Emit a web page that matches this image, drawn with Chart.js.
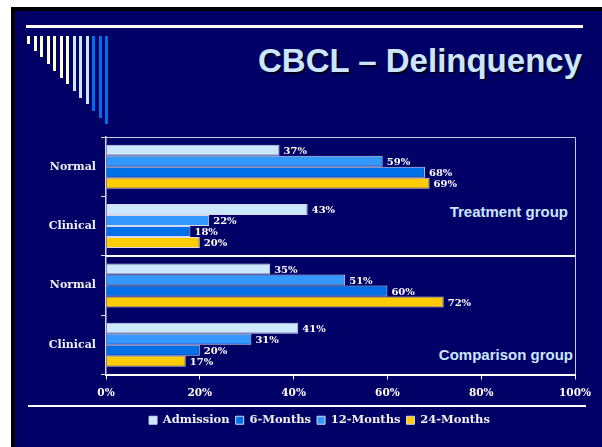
<!DOCTYPE html>
<html>
<head>
<meta charset="utf-8">
<script src="https://cdn.jsdelivr.net/npm/chart.js@4"></script>
<style>
    body{margin:0;background:#fff;width:602px;height:447px;overflow:hidden;position:relative;}
    .slide{position:absolute;left:11px;top:7px;width:591px;height:440px;background:#000066;
        border-left:4px solid #000;border-top:4px solid #000;box-sizing:border-box;}
    .topLine{position:absolute;left:26px;top:25px;width:557px;height:3px;background:#fff;}
    .bottomLine{position:absolute;left:28px;top:405px;width:558px;height:2px;background:#fff;}
    .deco{position:absolute;width:3px;top:36px;}
    .title{position:absolute;right:20px;top:44px;font:bold 33px "Liberation Sans",Arial,sans-serif;
        line-height:33px;color:#cce6ff;text-shadow:2px 2px 0 #000020;white-space:nowrap;}
    .group{position:absolute;font:bold 15px "Liberation Sans",Arial,sans-serif;line-height:15px;
        color:#cce6ff;white-space:nowrap;}
    canvas{position:absolute;left:0;top:0;}
</style>
</head>
<body>
<div class="slide"></div>
<div class="topLine"></div>
<div id="decoBox"></div>
<div class="title">CBCL – Delinquency</div>
<div class="group" style="right:34px;top:204px;">Treatment group</div>
<div class="group" style="right:29px;top:347px;">Comparison group</div>
<div class="bottomLine"></div>
<canvas id="chart" width="602" height="447"></canvas>
<script>
//__________ 資料 __________//
var categories = ['Normal', 'Clinical', 'Normal', 'Clinical'];
var seriesNames = ['Admission', '12-Months', '6-Months', '24-Months'];
var admission = [37, 43, 35, 41];
var months12 = [59, 22, 51, 31];
var months6 = [68, 18, 60, 20];
var months24 = [69, 20, 72, 17];
var xTicks = [0, 20, 40, 60, 80, 100];
var legendOrder = ['Admission', '6-Months', '12-Months', '24-Months'];

var barColors = ['#cce8ff', '#3399ff', '#0070e8', '#ffcc00'];
var serifFont = '"DejaVu Serif", "Liberation Serif", serif';

//__________ 左上裝飾線 __________//
var decoBox = document.getElementById('decoBox');
for (var i = 0; i < 13; i++) {
    var d = document.createElement('div');
    d.className = 'deco';
    d.style.left = (27 + i * 6.5) + 'px';
    d.style.height = (8 + i * 6.7) + 'px';
    d.style.background = i < 7 ? '#ffffcc' : (i < 10 ? '#cce8ff' : '#0070e8');
    decoBox.appendChild(d);
}

//__________ 數值標籤、外框 __________//
var extras = {
    id: 'extras',
    afterLayout: function(chart) {
        // 圖例往右移，對齊原圖
        chart.legend.left += 32;
        chart.legend.right += 32;
    },
    afterDatasetsDraw: function(chart) {
        var ctx = chart.ctx;
        var area = chart.chartArea;
        var yScale = chart.scales.y;
        ctx.save();
        // 外框
        ctx.strokeStyle = '#c8c8d8';
        ctx.lineWidth = 1;
        ctx.beginPath();
        ctx.moveTo(area.left - 4, area.top + 0.5);
        ctx.lineTo(area.right + 0.5, area.top + 0.5);
        ctx.lineTo(area.right + 0.5, area.bottom);
        ctx.stroke();
        // 中間分隔線
        var midY = Math.round(yScale.getPixelForValue(1.5));
        ctx.strokeStyle = '#ffffff';
        ctx.lineWidth = 2;
        ctx.beginPath();
        ctx.moveTo(area.left, midY);
        ctx.lineTo(area.right, midY);
        ctx.stroke();
        // 數值
        ctx.fillStyle = '#ffffff';
        ctx.font = 'bold 10px ' + serifFont;
        ctx.textAlign = 'left';
        ctx.textBaseline = 'middle';
        chart.data.datasets.forEach(function(ds, i) {
            chart.getDatasetMeta(i).data.forEach(function(bar, j) {
                ctx.fillText(ds.data[j] + '%', bar.x + 4, bar.y + 1);
            });
        });
        ctx.restore();
    }
};

var seriesData = [admission, months12, months6, months24];

new Chart(document.getElementById('chart'), {
    type: 'bar',
    data: {
        labels: categories,
        datasets: seriesData.map(function(vals, i) {
            return {
                label: seriesNames[i],
                data: vals,
                backgroundColor: barColors[i],
                borderColor: '#d8d8e8',
                borderWidth: 1,
                categoryPercentage: 0.74,
                barPercentage: 1
            };
        })
    },
    options: {
        indexAxis: 'y',
        responsive: false,
        animation: false,
        devicePixelRatio: 1,
        layout: {padding: {top: 137, right: 27, left: 0, bottom: 11}},
        scales: {
            x: {
                min: 0,
                max: 100,
                afterBuildTicks: function(scale) {
                    scale.ticks = xTicks.map(function(v) { return {value: v}; });
                },
                afterFit: function(scale) { scale.height = 34; },
                grid: {drawOnChartArea: false, drawTicks: true, tickLength: 5, color: '#ffffff'},
                border: {color: '#ffffff', width: 2},
                ticks: {
                    color: '#ffffff',
                    padding: 7,
                    font: {family: serifFont, size: 10.5, weight: 'bold'},
                    callback: function(v) { return v + '%'; }
                }
            },
            y: {
                afterFit: function(scale) { scale.width = 106; },
                grid: {offset: true, drawOnChartArea: false, drawTicks: true, tickLength: 5, color: '#d8d8e0'},
                border: {color: '#d8d8e0', width: 1.5},
                ticks: {
                    color: '#f0f0f0',
                    padding: 5,
                    font: {family: serifFont, size: 11, weight: 'bold'}
                }
            }
        },
        plugins: {
            legend: {
                position: 'bottom',
                labels: {
                    color: '#f0f0f0',
                    boxWidth: 8,
                    boxHeight: 8,
                    padding: 6,
                    font: {family: serifFont, size: 11.5, weight: 'bold'},
                    sort: function(a, b) {
                        return legendOrder.indexOf(a.text) - legendOrder.indexOf(b.text);
                    }
                }
            },
            tooltip: {enabled: false}
        }
    },
    plugins: [extras]
});
</script>
</body>
</html>
